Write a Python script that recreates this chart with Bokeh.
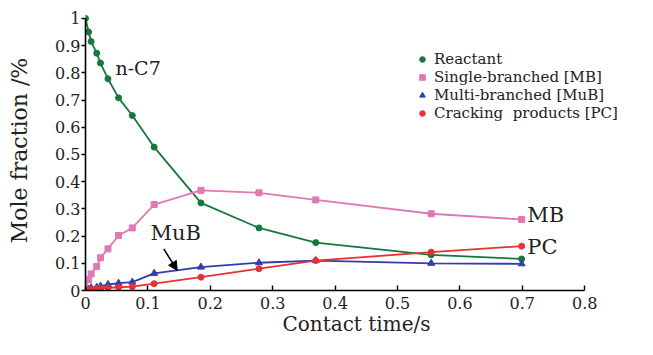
from bokeh.plotting import figure
from bokeh.models import Label, Arrow, NormalHead, Legend, LegendItem, FixedTicker
from bokeh.embed import file_html
from bokeh.resources import INLINE

# ---- data ----
t = [0, 0.005, 0.009, 0.018, 0.024, 0.036, 0.053, 0.075, 0.11, 0.185, 0.278, 0.369, 0.554, 0.699]
reactant = [1.0, 0.95, 0.915, 0.872, 0.836, 0.778, 0.708, 0.643, 0.527, 0.322, 0.230, 0.176, 0.131, 0.116]
single_branched = [0.0, 0.04, 0.061, 0.088, 0.12, 0.153, 0.202, 0.23, 0.316, 0.368, 0.359, 0.333, 0.282, 0.261]
multi_branched = [0.0, 0.005, 0.01, 0.012, 0.016, 0.022, 0.027, 0.031, 0.063, 0.086, 0.102, 0.11, 0.10, 0.098]
cracking = [0.0, 0.003, 0.005, 0.007, 0.008, 0.01, 0.012, 0.014, 0.025, 0.049, 0.08, 0.11, 0.141, 0.163]

series_names = ["Reactant", "Single-branched [MB]", "Multi-branched [MuB]", "Cracking  products [PC]"]
x_ticks = [0, 0.1, 0.2, 0.3, 0.4, 0.5, 0.6, 0.7, 0.8]
x_tick_labels = ["0", "0.1", "0.2", "0.3", "0.4", "0.5", "0.6", "0.7", "0.8"]
y_ticks = [0, 0.1, 0.2, 0.3, 0.4, 0.5, 0.6, 0.7, 0.8, 0.9, 1.0]
y_tick_labels = ["0", "0.1", "0.2", "0.3", "0.4", "0.5", "0.6", "0.7", "0.8", "0.9", "1"]

FONT = "DejaVu Serif"
GREEN = "#15783c"
PINK = "#e178b4"
BLUE = "#323caa"
RED = "#e63232"

p = figure(width=637, height=339, x_range=(0, 0.8686), y_range=(0, 1.029),
           output_backend="svg", toolbar_location=None,
           min_border_left=85, min_border_right=10, min_border_top=10, min_border_bottom=49)
p.outline_line_color = None
p.grid.visible = False

for ax in (p.xaxis[0], p.yaxis[0]):
    ax.axis_line_width = 1.6
    ax.axis_line_color = "black"
    ax.major_tick_line_width = 1.4
    ax.major_tick_line_color = "black"
    ax.minor_tick_line_color = None
    ax.major_label_text_font = FONT
    ax.major_label_text_font_size = "16px"
    ax.major_label_text_color = "#222222"
    ax.axis_label_text_font = FONT
    ax.axis_label_text_font_style = "normal"
    ax.axis_label_text_color = "#222222"

p.xaxis.ticker = FixedTicker(ticks=x_ticks)
p.xaxis.major_label_overrides = dict(zip(x_ticks, x_tick_labels))
p.xaxis.bounds = (0, 0.8)
p.xaxis.major_tick_in = 5
p.xaxis.major_tick_out = 0
p.xaxis.major_label_standoff = 6
p.xaxis.axis_label = "Contact time/s"
p.xaxis.axis_label_text_font_size = "20px"
p.xaxis.axis_label_standoff = 0

p.yaxis.ticker = FixedTicker(ticks=y_ticks)
p.yaxis.major_label_overrides = dict(zip(y_ticks, y_tick_labels))
p.yaxis.bounds = (0, 1)
p.yaxis.major_tick_in = 0
p.yaxis.major_tick_out = 4
p.yaxis.major_label_standoff = 1
p.yaxis.axis_label = "Mole fraction /%"
p.yaxis.axis_label_text_font_size = "22px"
p.yaxis.axis_label_standoff = 20

specs = [
    (reactant, GREEN, "circle", 6),
    (single_branched, PINK, "square", 6),
    (multi_branched, BLUE, "triangle", 7),
    (cracking, RED, "circle", 6),
]
items = []
for name, (ys, col, mk, sz) in zip(series_names, specs):
    p.line(t, ys, line_color=col, line_width=1.8)
    r = p.scatter(t, ys, marker=mk, size=sz, fill_color=col, line_color=col)
    items.append(LegendItem(label=name, renderers=[r]))

legend = Legend(items=items, location=(330, 168),
                label_text_font=FONT, label_text_font_size="15px", label_text_color="#222222",
                glyph_width=14, glyph_height=16, label_height=16, spacing=0,
                padding=0, margin=0, label_standoff=5,
                border_line_color=None, background_fill_color=None, background_fill_alpha=0)
p.add_layout(legend)

def add_label(x, y, text, size):
    p.add_layout(Label(x=x, y=y, text=text, text_font=FONT, text_font_size=size,
                       text_color="#222222", text_baseline="middle", text_align="left"))

add_label(0.048, 0.816, "n-C7", "19px")
add_label(0.104, 0.21, "MuB", "21px")
add_label(0.708, 0.279, "MB", "21px")
add_label(0.708, 0.159, "PC", "21px")

p.add_layout(Arrow(end=NormalHead(size=9, fill_color="black", line_color="black"),
                   x_start=0.1255, y_start=0.153, x_end=0.147, y_end=0.0735,
                   line_width=1.5, line_color="black"))

open("out.html", "w").write(file_html(p, INLINE))
